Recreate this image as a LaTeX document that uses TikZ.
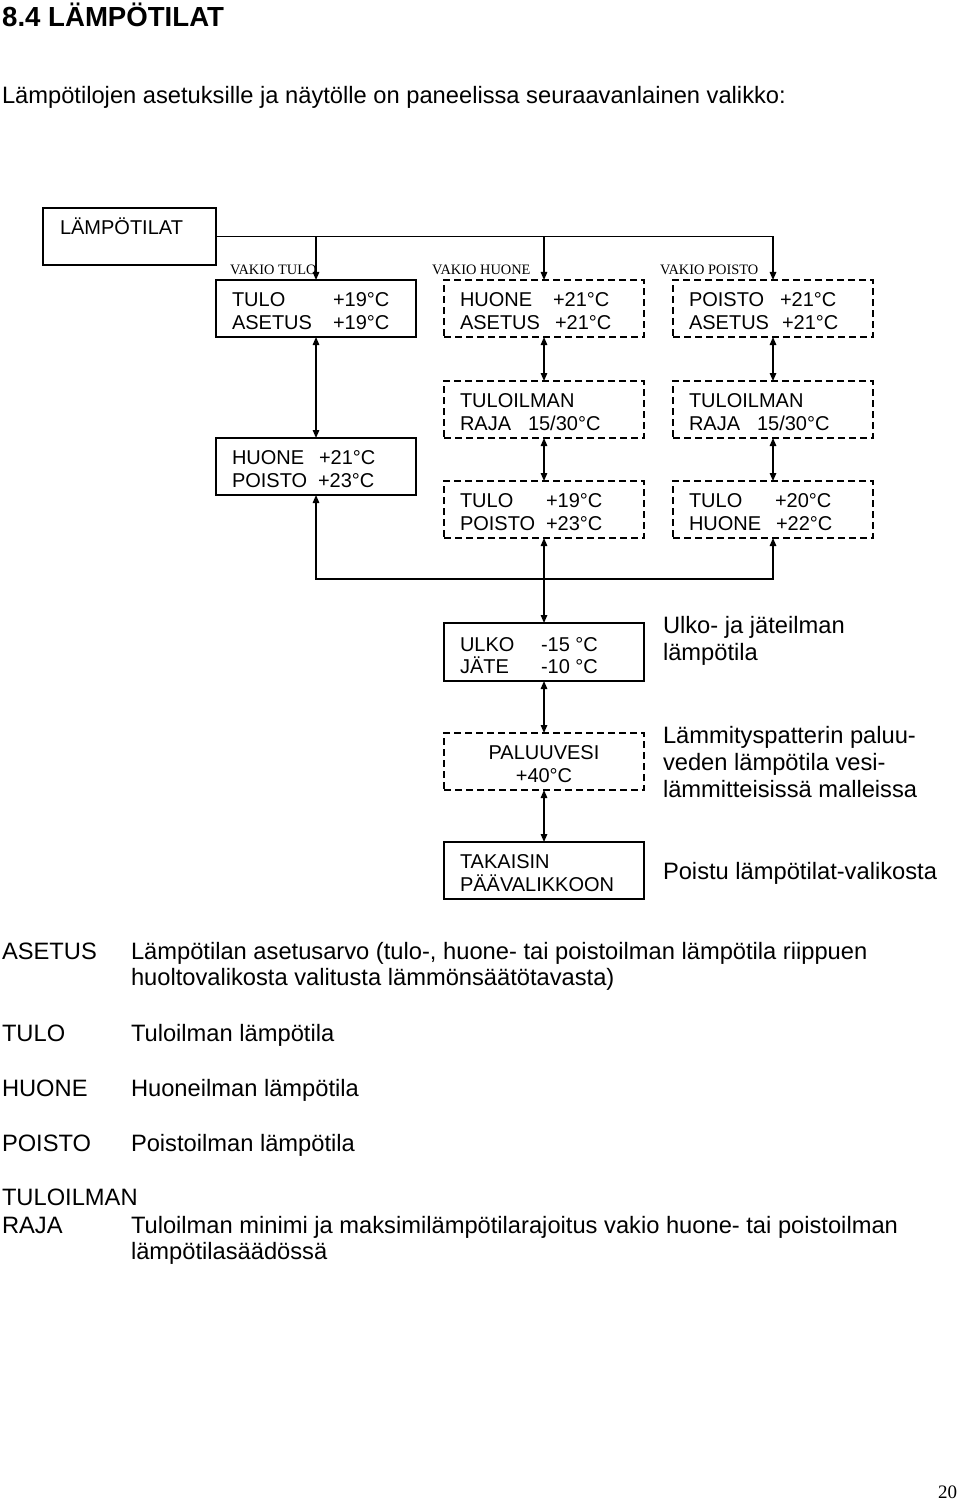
\documentclass[tikz,border=0pt]{standalone}
\usepackage{fontspec}
\setmainfont{Liberation Sans}
\newfontfamily\serifvk{Liberation Serif}
\usetikzlibrary{arrows.meta}
\newcommand{\bxf}{\fontsize{20}{23}\selectfont}
\newcommand{\bdf}{\fontsize{23.7}{27}\selectfont}
\tikzset{
  Tri/.tip={Triangle[length=8pt,width=6.5pt]},
  mbox/.style={draw, line width=1.7pt, inner sep=0pt, outer sep=0pt, minimum width=200pt, minimum height=57pt},
  dbox/.style={mbox, dash pattern=on 7pt off 4pt},
  btxt/.style={anchor=base west, inner sep=0pt, outer sep=0pt, font=\bxf},
  dtxt/.style={anchor=base west, inner sep=0pt, outer sep=0pt, font=\bdf},
  vtxt/.style={anchor=base west, inner sep=0pt, outer sep=0pt, font=\serifvk\fontsize{14.4}{16}\selectfont},
  conn/.style={line width=1.4pt},
}
\begin{document}
\begin{tikzpicture}[x=1pt,y=-1pt]
\useasboundingbox (0,0) rectangle (960,1503);
% title
\node[anchor=base west, inner sep=0pt, font=\bfseries\fontsize{27.6}{30}\selectfont] (title) at (2,27) {8.4 LÄMPÖTILAT};
\node[dtxt] (intro) at (2,104) {Lämpötilojen asetuksille ja näytölle on paneelissa seuraavanlainen valikko:};
% boxes
\node[mbox, minimum width=173pt] (lamp) at (129.5,236.5) {};
\node[btxt] (lampt) at (60,235) {LÄMPÖTILAT};
\node[mbox] (r1a) at (316,308.5) {};
\node[dbox] (r1b) at (544,308.5) {};
\node[dbox] (r1c) at (773,308.5) {};
\node[vtxt] (va) at (230,274.5) {VAKIO TULO};
\node[vtxt] (vb) at (432,274.5) {VAKIO HUONE};
\node[vtxt] (vc) at (660,274.5) {VAKIO POISTO};
\node[btxt] (r1a1) at (232,307) {TULO};
\node[btxt] (r1a2) at (333,307) {+19°C};
\node[btxt] (r1a3) at (232,330) {ASETUS};
\node[btxt] (r1a4) at (333,330) {+19°C};
\node[btxt] (r1b1) at (460,307) {HUONE};
\node[btxt] (r1b2) at (553,307) {+21°C};
\node[btxt] (r1b3) at (460,330) {ASETUS};
\node[btxt] (r1b4) at (555,330) {+21°C};
\node[btxt] (r1c1) at (689,307) {POISTO};
\node[btxt] (r1c2) at (780,307) {+21°C};
\node[btxt] (r1c3) at (689,330) {ASETUS};
\node[btxt] (r1c4) at (782,330) {+21°C};
% row 2
\node[mbox] (hp) at (316,466.5) {};
\node[btxt] (hp1) at (232,464) {HUONE};
\node[btxt] (hp2) at (319,464) {+21°C};
\node[btxt] (hp3) at (232,487) {POISTO};
\node[btxt] (hp4) at (318,487) {+23°C};
\node[dbox] (trb) at (544,409.5) {};
\node[dbox] (trc) at (773,409.5) {};
\node[btxt] (trb1) at (460,407) {TULOILMAN};
\node[btxt] (trb2) at (460,430) {RAJA};
\node[btxt] (trb3) at (528,430) {15/30°C};
\node[btxt] (trc1) at (689,407) {TULOILMAN};
\node[btxt] (trc2) at (689,430) {RAJA};
\node[btxt] (trc3) at (757,430) {15/30°C};
\node[dbox] (tpb) at (544,509.5) {};
\node[dbox] (tpc) at (773,509.5) {};
\node[btxt] (tpb1) at (460,507) {TULO};
\node[btxt] (tpb2) at (546,507) {+19°C};
\node[btxt] (tpb3) at (460,530) {POISTO};
\node[btxt] (tpb4) at (546,530) {+23°C};
\node[btxt] (tpc1) at (689,507) {TULO};
\node[btxt] (tpc2) at (775,507) {+20°C};
\node[btxt] (tpc3) at (689,530) {HUONE};
\node[btxt] (tpc4) at (776,530) {+22°C};
% lower column
\node[mbox, minimum height=58pt] (ulko) at (544,652) {};
\node[btxt] (u1) at (460,651) {ULKO};
\node[btxt] (u2) at (541,651) {-15 °C};
\node[btxt] (u3) at (460,673) {JÄTE};
\node[btxt] (u4) at (541,673) {-10 °C};
\node[dbox] (pal) at (544,761.5) {};
\node[btxt, anchor=base] (p1) at (544,759) {PALUUVESI};
\node[btxt, anchor=base] (p2) at (544,782) {+40°C};
\node[mbox] (tak) at (544,870.5) {};
\node[btxt] (t1) at (460,868) {TAKAISIN};
\node[btxt] (t2) at (460,891) {PÄÄVALIKKOON};
% side descriptions
\node[dtxt] (d1) at (663,633) {Ulko- ja jäteilman};
\node[dtxt] (d2) at (663,660) {lämpötila};
\node[dtxt] (d3) at (663,743) {Lämmityspatterin paluu-};
\node[dtxt] (d4) at (663,770) {veden lämpötila vesi-};
\node[dtxt] (d5) at (663,797) {lämmitteisissä malleissa};
\node[dtxt] (d6) at (663,879) {Poistu lämpötilat-valikosta};
% connectors
\coordinate (jy) at (0,579);
\draw[conn, -Tri] (lamp.east) -| (r1a.north);
\draw[conn, -Tri] (lamp.east) -| (r1b.north);
\draw[conn, -Tri] (lamp.east) -| (r1c.north);
\draw[conn, Tri-Tri] (r1a.south) -- (hp.north);
\draw[conn, Tri-Tri] (r1b.south) -- (trb.north);
\draw[conn, Tri-Tri] (r1c.south) -- (trc.north);
\draw[conn, Tri-Tri] (trb.south) -- (tpb.north);
\draw[conn, Tri-Tri] (trc.south) -- (tpc.north);
\draw[conn, Tri-Tri] (hp.south) -- (hp.south |- jy) -- (tpc.south |- jy) -- (tpc.south);
\draw[conn, Tri-Tri] (tpb.south) -- (ulko.north);
\draw[conn, Tri-Tri] (ulko.south) -- (pal.north);
\draw[conn, Tri-Tri] (pal.south) -- (tak.north);
% legend
\node[dtxt] (l1) at (2,959) {ASETUS};
\node[dtxt] (l1a) at (131,959) {Lämpötilan asetusarvo (tulo-, huone- tai poistoilman lämpötila riippuen};
\node[dtxt] (l1b) at (131,985) {huoltovalikosta valitusta lämmönsäätötavasta)};
\node[dtxt] (l2) at (2,1041) {TULO};
\node[dtxt] (l2a) at (131,1041) {Tuloilman lämpötila};
\node[dtxt] (l3) at (2,1096) {HUONE};
\node[dtxt] (l3a) at (131,1096) {Huoneilman lämpötila};
\node[dtxt] (l4) at (2,1151) {POISTO};
\node[dtxt] (l4a) at (131,1151) {Poistoilman lämpötila};
\node[dtxt] (l5) at (2,1205) {TULOILMAN};
\node[dtxt] (l6) at (2,1233) {RAJA};
\node[dtxt] (l6a) at (131,1233) {Tuloilman minimi ja maksimilämpötilarajoitus vakio huone- tai poistoilman};
\node[dtxt] (l6b) at (131,1259) {lämpötilasäädössä};
\node[anchor=base west, inner sep=0pt, font=\serifvk\fontsize{19}{21}\selectfont] (pg) at (938,1498) {20};
\end{tikzpicture}
\end{document}
